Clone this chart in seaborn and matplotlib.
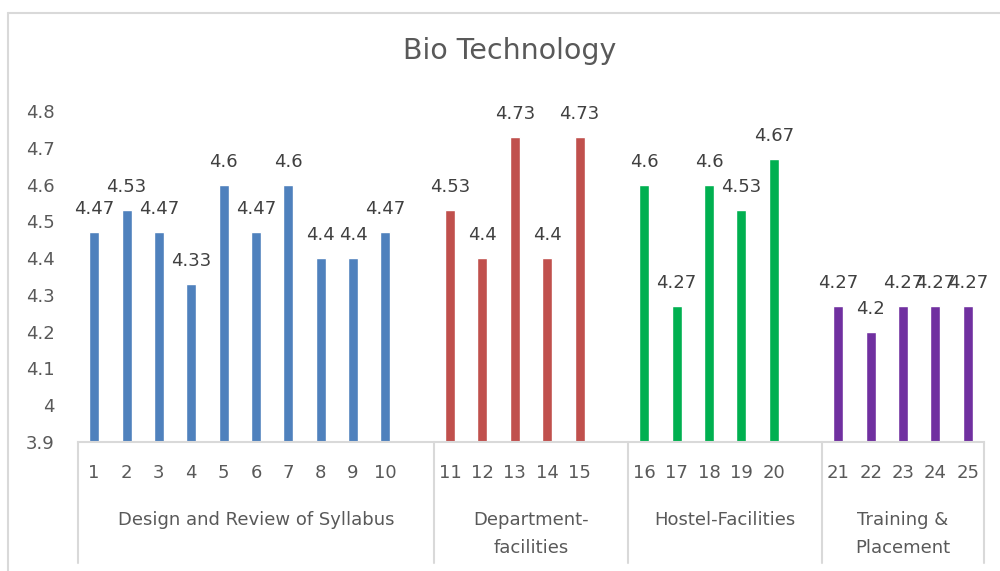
import numpy as np
import pandas as pd
import seaborn as sns
import matplotlib.pyplot as plt
from matplotlib.lines import Line2D
from matplotlib.transforms import blended_transform_factory

# data
groups = ["Design and Review of Syllabus", "Department-\nfacilities",
          "Hostel-Facilities", "Training &\nPlacement"]
group_sizes = [10, 5, 5, 5]
group_colors = ["#4F81BD", "#C0504D", "#00B050", "#7030A0"]
questions = [str(i) for i in range(1, 26)]
scores = [4.47, 4.53, 4.47, 4.33, 4.6, 4.47, 4.6, 4.4, 4.4, 4.47,
          4.53, 4.4, 4.73, 4.4, 4.73,
          4.6, 4.27, 4.6, 4.53, 4.67,
          4.27, 4.2, 4.27, 4.27, 4.27]
yticks = [3.9, 4.0, 4.1, 4.2, 4.3, 4.4, 4.5, 4.6, 4.7, 4.8]

group_col = []
for g, n in zip(groups, group_sizes):
    group_col += [g] * n
df = pd.DataFrame({"question": questions, "score": scores, "group": group_col})

# category order with an empty slot after each group (except the last)
order = []
bounds = [-0.5]
start = 0
for k, n in enumerate(group_sizes):
    order += questions[start:start + n]
    start += n
    if k < len(group_sizes) - 1:
        order.append(" " * (k + 1))
    bounds.append(len(order) - 0.5)

sns.set_style("white")
plt.rcParams["font.family"] = ["DejaVu Sans"]
text_col = "#595959"
grid_col = "#D9D9D9"

fig = plt.figure(figsize=(10, 5.71), dpi=100)
ax = fig.add_axes([0.078, 0.2259, 0.906, 0.5797])

sns.barplot(data=df, x="question", y="score", hue="group", order=order,
            palette=dict(zip(groups, group_colors)), dodge=False, width=0.31,
            legend=False, saturation=1, ax=ax)

for cont in ax.containers:
    ax.bar_label(cont, fmt="%g", padding=10, fontsize=13, color="#404040")

ax.set_ylim(3.9, 4.8)
ax.set_xlim(-0.5, len(order) - 0.5)
ax.set_yticks(yticks)
ax.set_yticklabels([f"{v:g}" for v in yticks])
ax.set_xlabel("")
ax.set_ylabel("")
ax.tick_params(axis="both", length=0, labelsize=13, labelcolor=text_col)
ax.tick_params(axis="x", pad=16)
ax.tick_params(axis="y", pad=17)
for s in ["left", "top", "right"]:
    ax.spines[s].set_visible(False)
ax.spines["bottom"].set_color(grid_col)
ax.spines["bottom"].set_linewidth(1.5)

# multi-level category axis: separators and group names
trans = blended_transform_factory(ax.transData, ax.transAxes)
for b in bounds:
    ax.add_line(Line2D([b, b], [0, -0.366], transform=trans, color=grid_col,
                       lw=1.5, clip_on=False))
for k, g in enumerate(groups):
    ax.text((bounds[k] + bounds[k + 1]) / 2, -0.207, g, transform=trans,
            ha="center", va="top", fontsize=13, color=text_col,
            linespacing=1.75)

fig.text(0.51, 1 - 59 / 571, "Bio Technology", ha="center", va="baseline",
         fontsize=20.5, color=text_col)

# chart area border
fig.add_artist(Line2D([0.008, 0.008], [0, 1 - 13 / 571], color=grid_col, lw=1.5))
fig.add_artist(Line2D([0.008, 1], [1 - 13 / 571, 1 - 13 / 571], color=grid_col, lw=1.5))

fig.savefig("out.png", dpi=100)
